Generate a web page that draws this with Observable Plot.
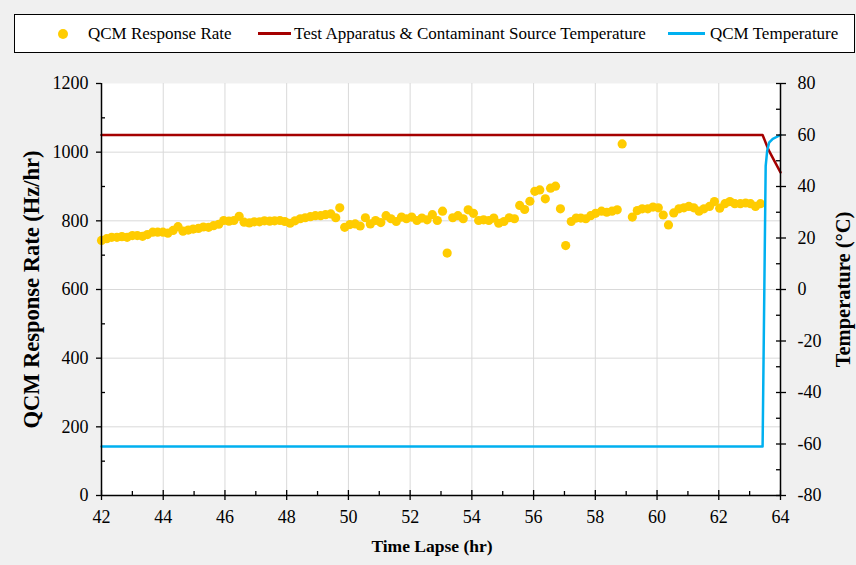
<!DOCTYPE html>
<html>
<head>
<meta charset="utf-8">
<script src="https://cdn.jsdelivr.net/npm/d3@7"></script>
<script src="https://cdn.jsdelivr.net/npm/@observablehq/plot@0.6"></script>
<style>
  body { margin: 0; background: #ffffff; }
  #chart {
    position: relative; width: 856px; height: 565px; background: #f0f0f0;
    font-family: "Liberation Serif", "Times New Roman", serif; color: #000;
  }
  #legend {
    position: absolute; left: 14px; top: 14px; width: 841px; height: 39px;
    background: #fff; border: 1px solid #000; box-sizing: border-box;
    font-size: 17px;
  }
  #legend .item { position: absolute; top: 0; height: 37px; display: flex; align-items: center; white-space: nowrap; }
  #legend .dot { width: 10px; height: 10px; border-radius: 50%; background: #ffcc00; margin-right: 20px; }
  #legend .swatch { height: 3px; margin-right: 3px; }
  #plot { position: absolute; left: 0; top: 60px; }
</style>
</head>
<body>
<div id="chart">
  <div id="legend"></div>
  <div id="plot"></div>
</div>
<script>
// QCM response rate samples: elapsed time (hr) and rate (Hz/hr)
const hours = [
  42.00, 42.17, 42.33, 42.50, 42.66, 42.83, 43.00, 43.16, 43.33, 43.49,
  43.66, 43.82, 43.99, 44.15, 44.32, 44.48, 44.64, 44.81, 44.97, 45.14,
  45.30, 45.47, 45.63, 45.80, 45.96, 46.13, 46.29, 46.46, 46.62, 46.79,
  46.95, 47.12, 47.28, 47.45, 47.61, 47.78, 47.94, 48.11, 48.27, 48.44,
  48.60, 48.77, 48.93, 49.10, 49.26, 49.43, 49.59, 49.72, 49.88, 50.05,
  50.22, 50.38, 50.55, 50.71, 50.88, 51.05, 51.22, 51.38, 51.55, 51.72,
  51.88, 52.05, 52.22, 52.38, 52.55, 52.72, 52.88, 53.05, 53.20, 53.38,
  53.55, 53.72, 53.88, 54.05, 54.22, 54.38, 54.55, 54.71, 54.87, 55.04,
  55.21, 55.38, 55.55, 55.71, 55.88, 56.04, 56.20, 56.38, 56.55, 56.71,
  56.87, 57.04, 57.22, 57.38, 57.53, 57.69, 57.85, 58.01, 58.20, 58.37,
  58.54, 58.71, 58.87, 59.20, 59.36, 59.52, 59.70, 59.87, 60.04, 60.20,
  60.37, 60.54, 60.71, 60.87, 61.03, 61.19, 61.36, 61.52, 61.70, 61.86,
  62.03, 62.20, 62.36, 62.52, 62.70, 62.87, 63.03, 63.19, 63.35
];
const rate = [
  743, 748, 752, 752, 754, 752, 757, 757, 755, 760,
  767, 767, 767, 764, 772, 783, 770, 773, 776, 778,
  782, 781, 786, 790, 801, 799, 801, 813, 796, 794,
  797, 797, 800, 799, 800, 801, 798, 793, 800, 806,
  809, 812, 815, 815, 818, 820, 809, 838, 781, 789,
  791, 785, 809, 791, 801, 795, 815, 806, 798, 811,
  806, 811, 801, 808, 803, 818, 801, 828, 706, 809,
  815, 806, 832, 822, 801, 803, 801, 808, 793, 798,
  809, 806, 845, 833, 857, 886, 890, 864, 895, 901,
  835, 728, 798, 808, 808, 806, 815, 822, 828, 825,
  828, 832, 1024, 811, 830, 835, 835, 840, 838, 817,
  788, 823, 835, 838, 842, 838, 828, 835, 842, 856,
  837, 850, 856, 850, 850, 852, 850, 842, 850
];

// Test apparatus & contaminant source temperature (°C)
const sourceHours = [42.00, 63.42, 63.62, 64.00];
const sourceTemp  = [60, 60, 54, 45.5];

// QCM temperature (°C)
const qcmHours = [42.00, 63.42, 63.52, 63.57, 63.63, 63.75, 64.00];
const qcmTemp  = [-61, -61, 48, 54, 57, 58.5, 60];

// Axis ticks
const rateTicks  = [0, 200, 400, 600, 800, 1000, 1200];
const rateMinor  = [100, 300, 500, 700, 900, 1100];
const hourTicks  = [42, 44, 46, 48, 50, 52, 54, 56, 58, 60, 62, 64];
const hourMinor  = [43, 45, 47, 49, 51, 53, 55, 57, 59, 61, 63];
const tempTicks  = [-80, -60, -40, -20, 0, 20, 40, 60, 80];
const tempMinor  = [-70, -50, -30, -10, 10, 30, 50, 70];

// Legend entries
const seriesNames = ["QCM Response Rate", "Test Apparatus & Contaminant Source Temperature", "QCM Temperature"];
const seriesColors = ["#ffcc00", "#a50000", "#00b0f0"];

// The temperature axis (-80..80 °C) shares the frame with the rate axis (0..1200)
const tempMin = -80, tempMax = 80, rateMax = 1200;
const toRate = t => (t - tempMin) * rateMax / (tempMax - tempMin);
const toTemp = r => r * (tempMax - tempMin) / rateMax + tempMin;

const rateData = hours.map((h, i) => ({hour: h, rate: rate[i]}));
const sourceData = sourceHours.map((h, i) => ({hour: h, temp: sourceTemp[i]}));
const qcmData = qcmHours.map((h, i) => ({hour: h, temp: qcmTemp[i]}));

const font = "Liberation Serif, Times New Roman, serif";
const axisStyle = {fontSize: 18, stroke: "#000", strokeWidth: 1.3, label: null};

const chart = Plot.plot({
  width: 856,
  height: 505,
  marginTop: 23,
  marginBottom: 70,
  marginLeft: 101,
  marginRight: 76,
  style: {background: "transparent", fontFamily: font, fontSize: "18px", color: "#000", overflow: "visible"},
  x: {domain: [42, 64]},
  y: {domain: [0, rateMax]},
  marks: [
    Plot.frame({fill: "#ffffff", stroke: null}),
    Plot.gridX(hourTicks.slice(1, -1), {stroke: "#d9d9d9", strokeOpacity: 1, strokeWidth: 1}),
    Plot.gridY(rateTicks.slice(1, -1), {stroke: "#d9d9d9", strokeOpacity: 1, strokeWidth: 1}),

    Plot.dot(rateData, {x: "hour", y: "rate", r: 4.6, fill: seriesColors[0], stroke: null}),
    Plot.line(sourceData, {x: "hour", y: d => toRate(d.temp), stroke: seriesColors[1], strokeWidth: 2.5}),
    Plot.line(qcmData, {x: "hour", y: d => toRate(d.temp), stroke: seriesColors[2], strokeWidth: 2.5}),

    // axis lines
    Plot.ruleX([42, 64], {stroke: "#000", strokeWidth: 1.5}),
    Plot.ruleY([0], {stroke: "#000", strokeWidth: 1.5}),

    // left axis: rate
    Plot.axisY(rateTicks, {anchor: "left", tickSize: 5, tickPadding: 8, tickFormat: d => String(d), ...axisStyle}),
    Plot.axisY(rateMinor, {anchor: "left", tickSize: 4, dx: 4, tickFormat: () => "", ...axisStyle}),

    // bottom axis: time
    Plot.axisX(hourTicks, {anchor: "bottom", tickSize: 5, tickPadding: 10, tickFormat: d => String(d), ...axisStyle}),
    Plot.axisX(hourTicks, {anchor: "bottom", tickSize: 5, dy: -5, tickFormat: () => "", ...axisStyle}),
    Plot.axisX(hourMinor, {anchor: "bottom", tickSize: 4, dy: -4, tickFormat: () => "", ...axisStyle}),

    // right axis: temperature
    Plot.axisY(tempTicks.map(toRate), {anchor: "right", tickSize: 5, tickPadding: 12, tickFormat: r => String(Math.round(toTemp(r))), textAnchor: "start", ...axisStyle}),
    Plot.axisY(tempTicks.map(toRate), {anchor: "right", tickSize: 5, dx: -5, tickFormat: () => "", ...axisStyle}),
    Plot.axisY(tempMinor.map(toRate), {anchor: "right", tickSize: 5, dx: -5, tickFormat: () => "", ...axisStyle}),

    // axis titles
    Plot.text(["QCM Response Rate (Hz/hr)"], {frameAnchor: "left", dx: -70, rotate: -90, textAnchor: "middle", fontSize: 22.5, fontWeight: "bold", fill: "#000"}),
    Plot.text(["Temperature (°C)"], {frameAnchor: "right", dx: 63, rotate: -90, textAnchor: "middle", fontSize: 20.5, fontWeight: "bold", fill: "#000"}),
    Plot.text(["Time Lapse (hr)"], {frameAnchor: "bottom", dy: 56, dx: -9, fontSize: 17.5, fontWeight: "bold", fill: "#000"})
  ]
});
document.getElementById("plot").appendChild(chart);

// legend
const legend = document.getElementById("legend");
const itemLeft = [43, 243, 653];
const swatchWidth = [0, 33, 37];
seriesNames.forEach((name, i) => {
  const item = document.createElement("div");
  item.className = "item";
  item.style.left = itemLeft[i] + "px";
  const key = document.createElement("span");
  if (i === 0) {
    key.className = "dot";
  } else {
    key.className = "swatch";
    key.style.width = swatchWidth[i] + "px";
    key.style.background = seriesColors[i];
  }
  item.appendChild(key);
  const label = document.createElement("span");
  label.textContent = name;
  if (i === 2) label.style.marginLeft = "2px";
  item.appendChild(label);
  legend.appendChild(item);
});
</script>
</body>
</html>
